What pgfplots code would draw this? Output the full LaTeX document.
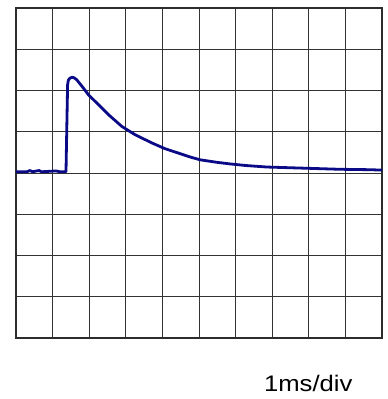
\documentclass[border=0pt]{standalone}
\usepackage{pgfplots}
\pgfplotsset{compat=1.18}
\usepackage{fontspec}
\setmainfont{Liberation Sans}
\definecolor{trace}{RGB}{10,10,135}
\definecolor{frame}{RGB}{45,45,45}

\begin{document}
\begin{tikzpicture}[x=1pt,y=1pt]
\path[use as bounding box] (0,0) rectangle (388,399);
\begin{axis}[
  at={(16pt,61pt)}, anchor=south west,
  scale only axis, width=366pt, height=330pt,
  xmin=0, xmax=10, ymin=-4, ymax=4,
  xtick={0,1,...,10}, ytick={-4,-3,...,4},
  xticklabels={}, yticklabels={},
  major tick length=0pt,
  grid=major,
  major grid style={black!80, line width=0.8pt},
  axis line style={frame, line width=2.2pt},
]
\addplot[trace, line width=2.8pt, line join=round] coordinates {
  (0.00,0.03) (0.30,0.03) (0.38,0.06) (0.45,0.03) (0.63,0.06) (0.70,0.03)
  (1.09,0.05) (1.20,0.03) (1.366,0.03)
  (1.39,1.20) (1.41,2.14) (1.43,2.25) (1.475,2.30) (1.53,2.32) (1.585,2.31)
  (1.66,2.26) (1.84,2.06) (1.975,1.90) (2.25,1.66) (2.52,1.42)
  (2.89,1.13) (3.25,0.93) (3.71,0.73) (4.07,0.59) (4.48,0.47)
  (4.75,0.39) (5.03,0.32) (5.48,0.26) (5.85,0.22) (6.30,0.18)
  (6.85,0.145) (7.76,0.12) (8.85,0.09) (9.67,0.08) (10.00,0.07)
};
\end{axis}
\node[anchor=base, xscale=1.14, font=\fontsize{22.5}{27}\selectfont] at (308.3,8) {1ms/div};
\end{tikzpicture}
\end{document}
